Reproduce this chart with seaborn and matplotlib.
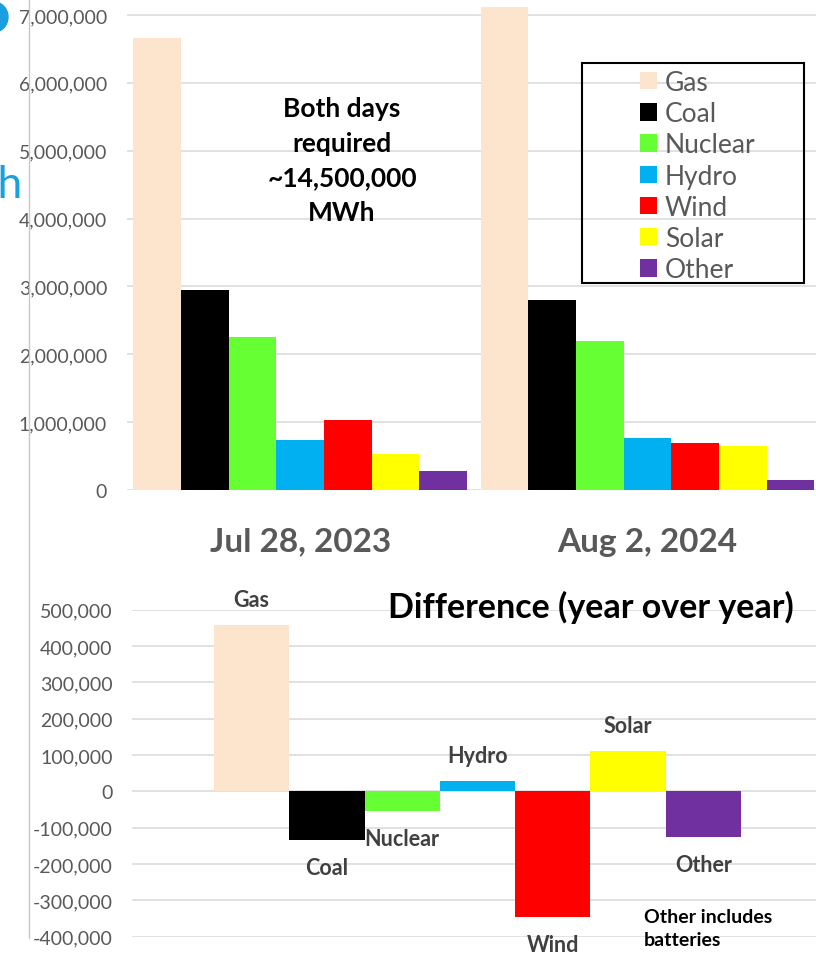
import matplotlib
matplotlib.use("Agg")
import matplotlib.pyplot as plt
from matplotlib.patches import Rectangle, Ellipse
from matplotlib.lines import Line2D
import seaborn as sns
import pandas as pd

# Datos (MWh por fuente)
sources = ['Gas', 'Coal', 'Nuclear', 'Hydro', 'Wind', 'Solar', 'Other']
days = ['Jul 28, 2023', 'Aug 2, 2024']
jul_2023 = [6660000, 2940000, 2260000, 740000, 1030000, 530000, 280000]
aug_2024 = [7120000, 2800000, 2200000, 770000, 690000, 650000, 150000]
difference = [457000, -135000, -54000, 28000, -346000, 110000, -126000]
top_ticks = [0, 1000000, 2000000, 3000000, 4000000, 5000000, 6000000, 7000000]
diff_ticks = [-400000, -300000, -200000, -100000, 0, 100000, 200000, 300000, 400000, 500000]

colors = ['#FDE4CC', '#000000', '#66FF33', '#00B0F0', '#FF0000', '#FFFF00', '#7030A0']
palette = dict(zip(sources, colors))

sns.set_theme(style='white')
plt.rcParams['font.family'] = ['Lato', 'DejaVu Sans']

W, H = 816, 954
fig = plt.figure(figsize=(W / 100, H / 100), dpi=100)
grid_col = '#D9D9D9'
tick_col = '#595959'

# GRÁFICO SUPERIOR: generación por día
df_top = pd.DataFrame({
    'day': [days[0]] * len(sources) + [days[1]] * len(sources),
    'source': sources * 2,
    'mwh': jul_2023 + aug_2024,
})

ax1 = fig.add_axes([126.5 / W, 1 - 491 / H, (816 - 126.5) / W, 491 / H])
sns.barplot(data=df_top, x='day', y='mwh', hue='source', hue_order=sources,
            palette=palette, saturation=1, width=0.961, gap=0, ax=ax1,
            linewidth=0, zorder=3)
ax1.set_xlim(-0.5, 1.485)
ax1.set_ylim(0, 7235000)
ax1.set_yticks(top_ticks)
ax1.set_yticklabels([f'{v:,}' for v in top_ticks])
ax1.grid(axis='y', color=grid_col, linewidth=1.1, zorder=0)
ax1.set_axisbelow(True)
ax1.tick_params(axis='y', length=0, pad=14, labelsize=14, labelcolor=tick_col)
ax1.tick_params(axis='x', length=0, pad=26.5, labelsize=24, labelcolor=tick_col)
for lab in ax1.get_xticklabels():
    lab.set_fontweight('bold')
ax1.set_xlabel('')
ax1.set_ylabel('')
for s in ax1.spines.values():
    s.set_visible(False)

handles, labels = ax1.get_legend_handles_labels()
ax1.get_legend().remove()
fig.legend(handles, labels, loc='upper left', bbox_to_anchor=(640 / W, 1 - 71 / H),
           frameon=False, borderpad=0, borderaxespad=0, fontsize=19,
           labelcolor=tick_col, handlelength=0.64, handleheight=0.64,
           handletextpad=0.3, labelspacing=0.235)
fig.add_artist(Rectangle((582 / W, 1 - 284 / H), 222 / W, 220 / H,
                         transform=fig.transFigure, fill=False,
                         edgecolor='black', linewidth=1.5))

fig.text(342 / W, 1 - 161 / H, 'Both days\nrequired\n~14,500,000\nMWh',
         ha='center', va='center', fontsize=19, fontweight='bold',
         color='black', linespacing=1.52)

# GRÁFICO INFERIOR: diferencia año contra año
df_diff = pd.DataFrame({'grp': ['diff'] * len(sources), 'source': sources,
                        'mwh': difference})

ax2 = fig.add_axes([132 / W, 1 - 937.7 / H, (823 - 132) / W, (937.7 - 610.7) / H])
sns.barplot(data=df_diff, x='grp', y='mwh', hue='source', hue_order=sources,
            palette=palette, saturation=1, width=0.763, gap=0, ax=ax2,
            linewidth=0, legend=False, zorder=3)
ax2.set_xlim(-0.5, 0.5)
ax2.set_ylim(-400000, 500000)
ax2.set_yticks(diff_ticks)
ax2.set_yticklabels([f'{v:,}' for v in diff_ticks])
ax2.grid(axis='y', color=grid_col, linewidth=1.1, zorder=0)
ax2.set_axisbelow(True)
ax2.tick_params(axis='y', length=0, pad=14, labelsize=14, labelcolor=tick_col)
ax2.set_xticks([])
ax2.set_xlabel('')
ax2.set_ylabel('')
for s in ax2.spines.values():
    s.set_visible(False)

# Etiquetas con el nombre de la fuente sobre/debajo de cada barra
for cont, name in zip(ax2.containers, sources):
    for bar in cont:
        h = bar.get_height()
        xc = bar.get_x() + bar.get_width() / 2
        off = 18.5 if h >= 0 else -19.5
        ax2.annotate(name, (xc, h), xytext=(0, off), textcoords='offset points',
                     ha='center', va='center', fontsize=15.5, fontweight='bold',
                     color='#404040', annotation_clip=False)

fig.text(591 / W, 1 - 607 / H, 'Difference (year over year)', ha='center',
         va='center', fontsize=24.5, fontweight='bold', color='black')
fig.text(644 / W, 1 - 929 / H, 'Other includes\nbatteries', ha='left',
         va='center', fontsize=14, fontweight='bold', color='black',
         linespacing=1.4)

# Restos recortados de la diapositiva original
fig.add_artist(Line2D([29 / W, 29 / W], [1, 1 - 939 / H], color='#C8C8C8',
                      linewidth=1, transform=fig.transFigure))
fig.text(23 / W, 1 - 186 / H, 'MWh', ha='right', va='center', fontsize=32,
         color='#1AA0DF')
fig.add_artist(Ellipse((-6 / W, 1 - 18 / H), 28 / W, 30 / H,
                       transform=fig.transFigure, color='#1AA0DF'))

plt.savefig('out.png', dpi=100)
